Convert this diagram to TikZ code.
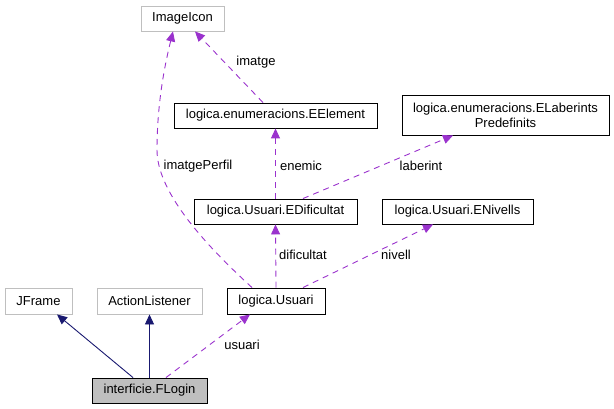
\documentclass[tikz,border=0pt]{standalone}
\usepackage{fontspec}
\setmainfont{Liberation Sans}
\usetikzlibrary{arrows.meta}
\definecolor{edgepurple}{HTML}{9A32CD}
\definecolor{edgenavy}{HTML}{191970}
\definecolor{extgray}{HTML}{BFBFBF}
\tikzset{
  x=1pt, y=-1pt,
  every node/.style={font=\fontsize{13}{15}\selectfont, inner sep=0pt},
  box/.style={draw=black, line width=0.9pt, fill=white, align=center},
  extbox/.style={draw=extgray, line width=0.9pt, fill=white, align=center},
  mainbox/.style={draw=black, line width=0.9pt, fill=extgray, align=center},
  inherit/.style={draw=edgenavy, line width=0.9pt, -{Triangle[length=10pt,width=9pt]}, edgenavy},
  uses/.style={draw=edgepurple, line width=0.9pt, dash pattern=on 6pt off 5pt, -{Triangle[length=10pt,width=9pt]}, edgepurple},
  elabel/.style={text=black}
}
\begin{document}
\begin{tikzpicture}
\useasboundingbox (0,0) rectangle (614,409);
% nodes
\node[extbox, minimum width=83pt, minimum height=25pt] (imageicon) at (182.5,18.5) {ImageIcon};
\node[box, minimum width=203pt, minimum height=25pt] (eelement) at (275.5,115.5) {logica.enumeracions.EElement};
\node[box, minimum width=207pt, minimum height=40pt] (elab) at (505.5,115) {logica.enumeracions.ELaberints\\Predefinits};
\node[box, minimum width=163pt, minimum height=25pt] (edif) at (275.5,211.5) {logica.Usuari.EDificultat};
\node[box, minimum width=151pt, minimum height=25pt] (eniv) at (457.5,211.5) {logica.Usuari.ENivells};
\node[box, minimum width=98pt, minimum height=26pt] (usuari) at (276,301) {logica.Usuari};
\node[extbox, minimum width=67pt, minimum height=26pt] (jframe) at (38.5,301) {JFrame};
\node[extbox, minimum width=105pt, minimum height=26pt] (alist) at (149.5,301) {ActionListener};
\node[mainbox, minimum width=115pt, minimum height=25pt] (flogin) at (149.5,390.5) {interficie.FLogin};
% edges
\draw[inherit] ([xshift=-16.5pt]flogin.north) -- ([xshift=18.5pt]jframe.south);
\draw[inherit] (flogin.north) -- (alist.south);
\draw[uses] ([xshift=16.5pt]flogin.north) -- ([xshift=-26pt]usuari.south);
\draw[uses] (usuari.north) -- (edif.south);
\draw[uses] ([xshift=27pt]usuari.north) -- ([xshift=-24.5pt]eniv.south);
\draw[uses] ([xshift=-24pt]usuari.north) .. controls (200,240) and (157,190) .. (157,150)
   .. controls (157,100) and (166,60) .. ([xshift=-9.5pt]imageicon.south);
\draw[uses] (edif.north) -- (eelement.south);
\draw[uses] ([xshift=27.5pt]edif.north) -- ([xshift=-52.5pt]elab.south);
\draw[uses] ([xshift=-12.5pt]eelement.north) -- ([xshift=12.5pt]imageicon.south);
% labels
\node[elabel] (lusuari) at (242,345) {usuari};
\node[elabel] (ldif) at (303,255) {dificultat};
\node[elabel] (lniv) at (396,255) {nivell};
\node[elabel] (limp) at (198,166) {imatgePerfil};
\node[elabel] (lenemic) at (301,166) {enemic};
\node[elabel] (llab) at (421,166) {laberint};
\node[elabel] (limatge) at (256,62) {imatge};
\end{tikzpicture}
\end{document}
